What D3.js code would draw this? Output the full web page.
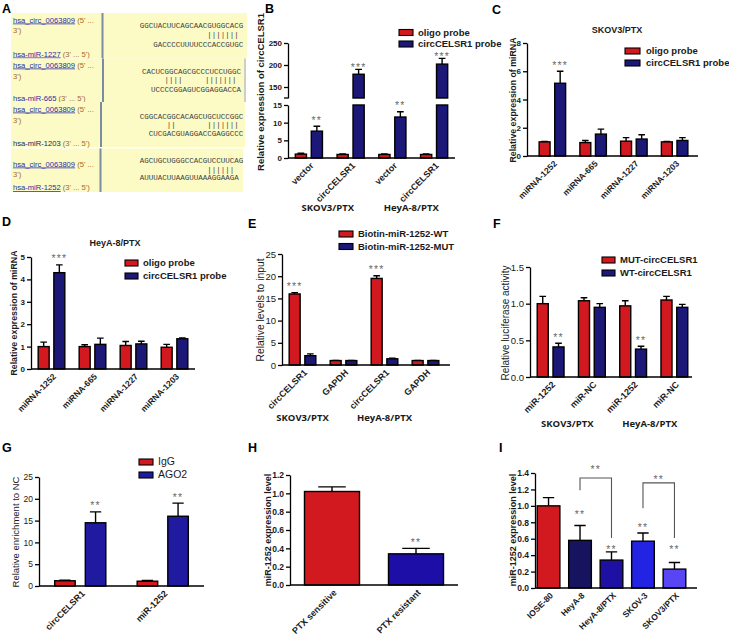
<!DOCTYPE html>
<html><head><meta charset="utf-8">
<script src="https://cdn.jsdelivr.net/npm/d3@7/dist/d3.min.js"></script>
<style>html,body{margin:0;padding:0;background:#fff}svg{display:block}</style>
</head><body>
<svg id="fig" width="729" height="638" xmlns="http://www.w3.org/2000/svg"></svg>
<script>
// ================= DATA =================
// Panel A – predicted binding sites
const aCircId = "hsa_circ_0063809";
const aMiRNames = ["hsa-miR-1227", "hsa-miR-665", "hsa-miR-1203", "hsa-miR-1252"];
const aCircSeqs = ["GGCUACUUCAGCAACGUGGCACG", "CACUCGGCAGCGCCCUCCUGGC", "CGGCACGGCACAGCUGCUCCGGC", "AGCUGCUGGGCCACGUCCUUCAG"];
const aPairs = ["               |||||||", "     ||||     |||||||", "      ||       |||||||", "               ||||||"];
const aMiRSeqs = ["   GACCCCUUUUCCCACCGUGC", "  UCCCCGGAGUCGGAGGACCA", "  CUCGACGUAGGACCGAGGCCC", "AUUUACUUAAGUUAAAGGAAGA"];

// Panel B
const bXLabels = ["vector", "circCELSR1", "vector", "circCELSR1"];
const bGroups = ["SKOV3/PTX", "HeyA-8/PTX"];
const bSeriesNames = ["oligo probe", "circCELSR1 probe"];
const bOligo = [1.1, 1.0, 1.0, 1.0];
const bOligoErr = [0.25, 0.15, 0.15, 0.15];
const bProbe = [7.6, 179, 11.6, 202];
const bProbeErr = [1.4, 11, 1.5, 13];
const bStars = ["**", "***", "**", "***"];
const bLowerTicks = [0, 5, 10, 15];
const bUpperTicks = [150, 200, 250];

// Panel C
const cTitle = "SKOV3/PTX";
const cCats = ["miRNA-1252", "miRNA-665", "miRNA-1227", "miRNA-1203"];
const cOligo = [1.0, 0.95, 1.05, 1.0];
const cOligoErr = [0.03, 0.15, 0.25, 0.03];
const cProbe = [5.15, 1.55, 1.2, 1.1];
const cProbeErr = [0.85, 0.35, 0.3, 0.2];
const cStars = ["***", "", "", ""];
const cTicks = [0, 2, 4, 6, 8];

// Panel D
const dTitle = "HeyA-8/PTX";
const dCats = ["miRNA-1252", "miRNA-665", "miRNA-1227", "miRNA-1203"];
const dOligo = [1.0, 1.0, 1.05, 0.97];
const dOligoErr = [0.2, 0.08, 0.18, 0.13];
const dProbe = [4.3, 1.1, 1.12, 1.35];
const dProbeErr = [0.35, 0.28, 0.12, 0.04];
const dStars = ["***", "", "", ""];
const dTicks = [0, 1, 2, 3, 4, 5];

// Panel E
const eCats = ["circCELSR1", "GAPDH", "circCELSR1", "GAPDH"];
const eGroups = ["SKOV3/PTX", "HeyA-8/PTX"];
const eSeriesNames = ["Biotin-miR-1252-WT", "Biotin-miR-1252-MUT"];
const eWT = [16.0, 1.0, 19.5, 1.0];
const eWTErr = [0.3, 0.02, 0.6, 0.02];
const eMUT = [2.1, 1.0, 1.4, 1.0];
const eMUTErr = [0.4, 0.02, 0.15, 0.02];
const eStars = ["***", "", "***", ""];
const eTicks = [0, 5, 10, 15, 20, 25];

// Panel F
const fCats = ["miR-1252", "miR-NC", "miR-1252", "miR-NC"];
const fGroups = ["SKOV3/PTX", "HeyA-8/PTX"];
const fSeriesNames = ["MUT-circCELSR1", "WT-circCELSR1"];
const fMUT = [1.0, 1.04, 0.97, 1.05];
const fMUTErr = [0.1, 0.04, 0.07, 0.05];
const fWT = [0.41, 0.95, 0.38, 0.95];
const fWTErr = [0.05, 0.05, 0.04, 0.04];
const fStars = ["**", "", "**", ""];
const fTicks = [0, 0.5, 1.0, 1.5];

// Panel G
const gCats = ["circCELSR1", "miR-1252"];
const gSeriesNames = ["IgG", "AGO2"];
const gIgG = [1.2, 1.1];
const gIgGErr = [0.15, 0.15];
const gAGO2 = [14.5, 16.0];
const gAGO2Err = [2.5, 3.0];
const gStars = ["**", "**"];
const gTicks = [0, 5, 10, 15, 20, 25];

// Panel H
const hCats = ["PTX sensitive", "PTX resistant"];
const hVals = [1.02, 0.34];
const hErr = [0.05, 0.06];
const hStars = ["", "**"];
const hTicks = [0, 0.2, 0.4, 0.6, 0.8, 1.0, 1.2];

// Panel I
const iCats = ["IOSE-80", "HeyA-8", "HeyA-8/PTX", "SKOV-3", "SKOV3/PTX"];
const iVals = [1.0, 0.58, 0.34, 0.57, 0.23];
const iErr = [0.1, 0.18, 0.1, 0.1, 0.08];
const iStars = ["", "**", "**", "**", "**"];
const iCompare = [[1, 2], [3, 4]];
const iCompareLabels = ["**", "**"];
const iTicks = [0, 0.2, 0.4, 0.6, 0.8, 1.0, 1.2, 1.4];

// ================= STYLE / HELPERS =================
const svg = d3.select("#fig");
const SANS = "'Liberation Sans', Arial, Helvetica, sans-serif";
const OPEN = "'Open Sans', 'Liberation Sans', sans-serif";
const MONO = "'Liberation Mono', 'DejaVu Sans Mono', monospace";
const RED = "#d2191f", NAVY = "#1b1877", HBLUE = "#1c0ea6", INK = "#1a1a1a", STAR = "#6b6b6b";
const iPalette = [RED, "#16145e", "#1d10a2", "#2323e4", "#5846f4"];

function text(x, y, s, o = {}) {
  return svg.append("text").attr("x", x).attr("y", y).text(s)
    .attr("font-family", o.family || SANS).attr("font-size", o.size || 9)
    .attr("font-weight", o.weight || "bold").attr("fill", o.fill || INK)
    .attr("text-anchor", o.anchor || "start");
}
function panelLetter(x, y, s) { text(x, y, s, {size: 12.5, fill: "#000"}); }
function yTitle(x, y, s, o = {}) {
  svg.append("text").attr("transform", `translate(${x},${y}) rotate(-90)`)
    .attr("text-anchor", "middle").text(s)
    .attr("font-family", SANS).attr("font-size", o.size || 9)
    .attr("font-weight", o.weight || "bold").attr("fill", INK);
}
function yAxis(x, scale, ticks, fmt, o = {}) {
  const g = svg.append("g").attr("transform", `translate(${x},0)`)
    .call(d3.axisLeft(scale).tickValues(ticks).tickFormat(fmt).tickSize(4).tickSizeOuter(0).tickPadding(2));
  g.select(".domain").attr("stroke", "#000").attr("stroke-width", 1.3);
  g.selectAll(".tick line").attr("stroke", "#000").attr("stroke-width", 1.3);
  g.selectAll(".tick text").attr("font-family", SANS).attr("font-size", o.size || 8)
    .attr("font-weight", o.weight || "bold").attr("fill", INK);
  return g;
}
function baseline(x0, x1, y) {
  svg.append("line").attr("x1", x0).attr("x2", x1).attr("y1", y).attr("y2", y)
    .attr("stroke", "#000").attr("stroke-width", 1.3);
}
function rect(x, w, yTop, yBot, fill) {
  svg.append("rect").attr("x", x).attr("y", yTop).attr("width", w).attr("height", Math.max(0, yBot - yTop))
    .attr("fill", fill).attr("stroke", "#000").attr("stroke-width", 1.4);
}
function errBar(cx, w, yTop, yEnd) {
  svg.append("path").attr("d", `M${cx},${yTop}V${yEnd}M${cx - w / 2},${yEnd}H${cx + w / 2}`)
    .attr("stroke", "#000").attr("stroke-width", 1.4).attr("fill", "none");
}
function starText(cx, y, s) {
  if (s) text(cx, y, s, {anchor: "middle", size: 10.5, weight: "normal", fill: STAR}).attr("letter-spacing", 1.2);
}
function xLabels(centers, y, labels, o = {}) {
  labels.forEach((l, i) => svg.append("text")
    .attr("transform", `translate(${centers[i] + (o.dx ?? 3)},${y + (o.dy ?? 6)}) rotate(-45)`)
    .attr("text-anchor", "end").attr("dy", "0.35em").text(l)
    .attr("font-family", SANS).attr("font-size", o.size || 8.5)
    .attr("font-weight", o.weight || "bold").attr("fill", INK));
}
function legend(x, y, names, colors, o = {}) {
  const gap = o.gap || 12.5, sw = o.sw || 14, sh = o.sh || 6;
  names.forEach((n, i) => {
    svg.append("rect").attr("x", x).attr("y", y + i * gap).attr("width", sw).attr("height", sh)
      .attr("fill", colors[i]).attr("stroke", "#000").attr("stroke-width", 1.1);
    text(x + sw + (o.tx || 5), y + i * gap + sh / 2 + 3.4, n, {size: o.size || 9.5, weight: o.weight || "bold"});
  });
}
function groupedPanel(c) {
  const y = d3.scaleLinear().domain(c.yDomain).range(c.yRange);
  const x0 = d3.scaleBand().domain(d3.range(c.labels.length)).range(c.band).paddingInner(c.pi).paddingOuter(c.po);
  const x1 = d3.scaleBand().domain(d3.range(c.series.length)).range([0, x0.bandwidth()]).paddingInner(c.ip);
  const bw = x1.bandwidth();
  c.series.forEach((s, si) => s.vals.forEach((v, ci) => {
    const bx = x0(ci) + x1(si), cx = bx + bw / 2, top = v + s.errs[ci];
    if (s.errs[ci] > 0) errBar(cx, bw * (c.cap || 0.6), y(v), y(top));
    rect(bx, bw, y(v), y(0), s.colors ? s.colors[ci] : s.color);
    if (s.stars && !c.noStars) starText(cx, y(top) - 2.5, s.stars[ci]);
  }));
  yAxis(c.axisX, y, c.ticks, c.fmt, c.tickFont || {});
  baseline(c.axisX, c.axisEnd, y(0));
  const centers = d3.range(c.labels.length).map(i => x0(i) + x0.bandwidth() / 2);
  xLabels(centers, y(0), c.labels, c.xFont || {});
  return {x0, y, centers};
}

// ================= PANEL A =================
panelLetter(2, 13, "A");
const aLayout = [
  {top: 13, bot: 58.5, right: 247, div: 102.5, ty: [22.5, 32.5, 56.5], sy: [27.5, 37.3, 46.5]},
  {top: 58.5, bot: 102, right: 246, div: 103, ty: [67.5, 78.5, 101], sy: [73.5, 82.3, 91.5]},
  {top: 102, bot: 147, right: 245, div: 101, ty: [111.5, 122.5, 145.5], sy: [118.5, 127.3, 135.5]},
  {top: 148.5, bot: 192, right: 243, div: 100.5, ty: [166.5, 176.5, 190], sy: [162.5, 172, 179.5]}
];
const LINK = "#2a2aa8", BROWN = "#a8662c";
aLayout.forEach((L, i) => {
  svg.append("rect").attr("x", 11).attr("y", L.top).attr("width", L.right - 11).attr("height", L.bot - L.top).attr("fill", "#fcfbc6");
  svg.append("line").attr("x1", L.div).attr("x2", L.div).attr("y1", L.top).attr("y2", L.bot).attr("stroke", "#7b8ca3").attr("stroke-width", 2);
  if (i === 1) svg.append("line").attr("x1", L.right - 1).attr("x2", L.right - 1).attr("y1", L.top).attr("y2", L.bot).attr("stroke", "#9aa7b6").attr("stroke-width", 1);
  const t1 = svg.append("text").attr("x", 13).attr("y", L.ty[0]).attr("font-family", SANS).attr("font-size", 7.6);
  t1.append("tspan").attr("fill", LINK).attr("text-decoration", "underline").text(aCircId);
  t1.append("tspan").attr("fill", BROWN).text(" (5' ...");
  text(13, L.ty[1], "3')", {size: 7.6, weight: "normal", fill: BROWN});
  const t3 = svg.append("text").attr("x", 13).attr("y", L.ty[2]).attr("font-family", SANS).attr("font-size", 7.6);
  t3.append("tspan").attr("fill", i === 2 ? "#23235e" : LINK).attr("text-decoration", i === 2 ? "none" : "underline").text(aMiRNames[i]);
  t3.append("tspan").attr("fill", BROWN).text(" (3' ... 5')");
  const cw = 4.5, n = aCircSeqs[i].length, sx = 191.5 - n * cw / 2;
  [aCircSeqs[i], aPairs[i], aMiRSeqs[i]].forEach((s, k) => svg.append("text")
    .attr("x", sx).attr("y", L.sy[k]).attr("font-family", MONO).attr("font-size", 7.5)
    .attr("fill", "#3c3c3c").text(s.replace(/ /g, "\u00A0")));
});

// ================= PANEL B (broken axis) =================
panelLetter(265, 13, "B");
(function () {
  const yLow = d3.scaleLinear().domain([0, 15]).range([158, 105]);
  const yUp = d3.scaleLinear().domain([125, 250]).range([98, 43]);
  const x0 = d3.scaleBand().domain(d3.range(bXLabels.length)).range([288, 455]).paddingInner(0.35).paddingOuter(0.175);
  const x1 = d3.scaleBand().domain([0, 1]).range([0, x0.bandwidth()]).paddingInner(0.3);
  const bw = x1.bandwidth();
  const series = [{vals: bOligo, errs: bOligoErr, color: RED}, {vals: bProbe, errs: bProbeErr, color: NAVY, stars: bStars}];
  series.forEach((s, si) => s.vals.forEach((v, ci) => {
    const bx = x0(ci) + x1(si), cx = bx + bw / 2, top = v + s.errs[ci];
    if (v <= 15) {
      errBar(cx, bw * 0.6, yLow(v), yLow(top));
      rect(bx, bw, yLow(v), yLow(0), s.color);
      if (s.stars) starText(cx, yLow(top) - 2.5, s.stars[ci]);
    } else {
      errBar(cx, bw * 0.6, yUp(v), yUp(top));
      rect(bx, bw, yUp(v), yUp(125), s.color);
      rect(bx, bw, yLow(15), yLow(0), s.color);
      if (s.stars) starText(cx, yUp(top) + 1.2, s.stars[ci]);
    }
  }));
  yAxis(288, yLow, bLowerTicks, d3.format("d"));
  yAxis(288, yUp, bUpperTicks, d3.format("d"));
  svg.append("line").attr("x1", 284).attr("x2", 288).attr("y1", 98).attr("y2", 98).attr("stroke", "#000").attr("stroke-width", 1.3);
  baseline(288, 455, yLow(0));
  const centers = d3.range(bXLabels.length).map(i => x0(i) + x0.bandwidth() / 2);
  xLabels(centers, yLow(0), bXLabels, {size: 9});
  bGroups.forEach((g, k) => text((centers[2 * k] + centers[2 * k + 1]) / 2 - 2, 211, g, {anchor: "middle", family: OPEN, size: 9.5}));
  legend(399, 29.5, bSeriesNames, [RED, NAVY], {gap: 11.5, sw: 14, sh: 6, tx: 5});
  yTitle(263.5, 92, "Relative expression of circCELSR1", {size: 9.5});
})();

// ================= PANEL C =================
panelLetter(492, 14, "C");
text(617, 33, cTitle, {anchor: "middle", size: 9});
groupedPanel({
  labels: cCats, series: [{vals: cOligo, errs: cOligoErr, color: RED}, {vals: cProbe, errs: cProbeErr, color: NAVY, stars: cStars}],
  yDomain: [0, 8], yRange: [156, 43], band: [532, 695], pi: 0.35, po: 0.175, ip: 0.3,
  axisX: 527, axisEnd: 698, ticks: cTicks, fmt: d3.format("d"), tickFont: {size: 8}, xFont: {size: 8.5}
});
legend(625, 48, bSeriesNames, [RED, NAVY], {gap: 12, sw: 15, sh: 6, tx: 6});
yTitle(516, 100, "Relative expression of miRNA", {size: 8.8});

// ================= PANEL D =================
panelLetter(2, 226, "D");
text(115, 246, dTitle, {anchor: "middle", size: 9});
groupedPanel({
  labels: dCats, series: [{vals: dOligo, errs: dOligoErr, color: RED}, {vals: dProbe, errs: dProbeErr, color: NAVY, stars: dStars}],
  yDomain: [0, 5], yRange: [369, 257], band: [31, 195], pi: 0.35, po: 0.175, ip: 0.3,
  axisX: 31, axisEnd: 195, ticks: dTicks, fmt: d3.format("d"), tickFont: {size: 8}, xFont: {size: 8.5}
});
legend(125, 260, bSeriesNames, [RED, NAVY], {gap: 13, sw: 13, sh: 6, tx: 5});
yTitle(17, 313, "Relative expression of miRNA", {size: 8.8});

// ================= PANEL E =================
panelLetter(248, 228, "E");
(function () {
  const r = groupedPanel({
    labels: eCats, series: [{vals: eWT, errs: eWTErr, color: RED, stars: eStars}, {vals: eMUT, errs: eMUTErr, color: NAVY}],
    yDomain: [0, 25], yRange: [365, 254], band: [282, 446], pi: 0.35, po: 0.175, ip: 0.3,
    axisX: 282, axisEnd: 450, ticks: eTicks, fmt: d3.format("d"), tickFont: {size: 9.5, weight: "normal"}, xFont: {size: 9}
  });
  eGroups.forEach((g, k) => text(r.centers[2 * k], 421, g, {anchor: "middle", family: OPEN, size: 9.5}));
})();
legend(339, 231, eSeriesNames, [RED, NAVY], {gap: 12.5, sw: 14, sh: 6, tx: 5});
yTitle(264, 310, "Relative levels to input", {size: 10.3, weight: "normal"});

// ================= PANEL F =================
panelLetter(493, 228, "F");
(function () {
  const r = groupedPanel({
    labels: fCats, series: [{vals: fMUT, errs: fMUTErr, color: RED}, {vals: fWT, errs: fWTErr, color: NAVY, stars: fStars}],
    yDomain: [0, 1.5], yRange: [377, 267], band: [530, 695], pi: 0.35, po: 0.175, ip: 0.3,
    axisX: 530, axisEnd: 692, ticks: fTicks, fmt: d3.format(".1f"), tickFont: {size: 9.5, weight: "normal"}, xFont: {size: 9}
  });
  fGroups.forEach((g, k) => text((r.centers[2 * k] + r.centers[2 * k + 1]) / 2 - 4, 427, g, {anchor: "middle", family: OPEN, size: 9.5}));
})();
legend(602, 257, fSeriesNames, [RED, NAVY], {gap: 13, sw: 13, sh: 6, tx: 5});
yTitle(509, 323, "Relative luciferase activity", {size: 10, weight: "normal"});

// ================= PANEL G =================
panelLetter(2, 452, "G");
groupedPanel({
  labels: gCats, series: [{vals: gIgG, errs: gIgGErr, color: RED}, {vals: gAGO2, errs: gAGO2Err, color: "#1f1aa0", stars: gStars}],
  yDomain: [0, 25], yRange: [586, 477], band: [39, 204], pi: 0.38, po: 0.19, ip: 0.33, cap: 0.55,
  axisX: 39, axisEnd: 204, ticks: gTicks, fmt: d3.format("d"), tickFont: {size: 8.5, weight: "normal"}, xFont: {size: 9}
});
legend(139, 459, gSeriesNames, [RED, "#1f1aa0"], {gap: 13, sw: 14, sh: 6, tx: 5, size: 10.5, weight: "normal"});
yTitle(19, 532, "Relative enrichment to NC", {size: 9.5, weight: "normal"});

// ================= PANEL H =================
panelLetter(248, 452, "H");
groupedPanel({
  labels: hCats, series: [{vals: hVals, errs: hErr, colors: [RED, HBLUE], stars: hStars}],
  yDomain: [0, 1.2], yRange: [585, 475], band: [290, 458], pi: 0.345, po: 0.1725, ip: 0, cap: 0.5,
  axisX: 290, axisEnd: 458, ticks: hTicks, fmt: d3.format(".1f"), tickFont: {size: 8.5}, xFont: {size: 9}
});
yTitle(271, 530, "miR-1252 expression level", {size: 9});

// ================= PANEL I =================
panelLetter(499, 452, "I");
(function () {
  const r = groupedPanel({
    labels: iCats, series: [{vals: iVals, errs: iErr, colors: iPalette, stars: iStars}], noStars: true,
    yDomain: [0, 1.4], yRange: [588, 473], band: [535, 688], pi: 0.28, po: 0.07, ip: 0, cap: 0.5,
    axisX: 535, axisEnd: 697, ticks: iTicks, fmt: d3.format(".1f"), tickFont: {size: 8.5}, xFont: {size: 8.5}
  });
  const y = r.y, c = r.centers;
  const starLevel = [0, 0.93, 0.5, 0.77, 0.5];
  iStars.forEach((s, k) => starText(c[k], y(starLevel[k]) + 6.4, s));
  const br = [{l: 1.19, t: 1.34, r: 0.61, ty: 473}, {l: 0.97, t: 1.28, r: 0.61, ty: 482.5}];
  iCompare.forEach((p, k) => {
    const b = br[k];
    svg.append("path").attr("d", `M${c[p[0]]},${y(b.l)}V${y(b.t)}H${c[p[1]]}V${y(b.r)}`)
      .attr("fill", "none").attr("stroke", "#555").attr("stroke-width", 1.1);
    starText((c[p[0]] + c[p[1]]) / 2, b.ty, iCompareLabels[k]);
  });
})();
yTitle(516, 530, "miR-1252 expression level", {size: 9});
</script>
</body></html>
